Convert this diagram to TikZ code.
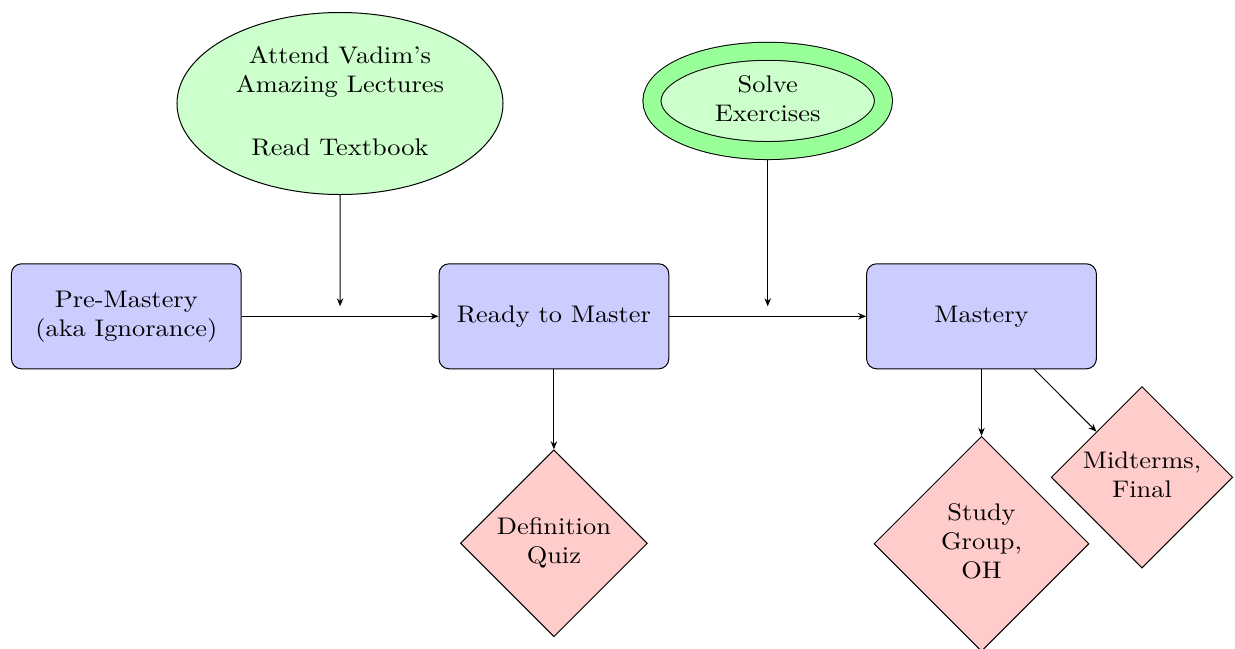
\documentclass[tikz,border=0pt]{standalone}
\usepackage{graphicx}
\usetikzlibrary{shapes.geometric,arrows.meta,calc}
\newcommand\ntxt[1]{\scalebox{1.056}[0.96]{\begin{tabular}{@{}c@{}}#1\end{tabular}}}
\tikzset{
  stagebox/.style={draw=black, fill=blue!20, rounded corners=4pt, inner sep=0pt,
    minimum width=91.9pt, minimum height=42pt, line width=0.4pt},
  actell/.style={draw=black, fill=green!20, ellipse, inner sep=0pt, line width=0.4pt},
  assess/.style={draw=black, fill=red!20, diamond, aspect=1, inner sep=0pt, line width=0.4pt},
  conn/.style={line width=0.4pt, -{Stealth[length=3.2pt,width=2.6pt]}}
}
\begin{document}
\begin{tikzpicture}[x=0.4pt,y=-0.4pt]
\useasboundingbox (0,0) rectangle (1235,648);
% stage boxes
\node[stagebox] (pre) at (126.3,316.3) {\ntxt{Pre-Mastery\\(aka Ignorance)}};
\node[stagebox] (ready) at (553.9,316.3) {\ntxt{Ready to Master}};
\node[stagebox] (mastery) at (981.5,316.3) {\ntxt{Mastery}};
% activities
\node[actell, minimum width=130.4pt, minimum height=72.8pt] (lect) at (340,103.5)
  {\ntxt{Attend Vadim's\\Amazing Lectures\\[14.3pt]Read Textbook}};
\node[actell, double=green!40, double distance=6.8pt, outer sep=3.8pt,
  minimum width=92.6pt, minimum height=39.7pt] (solve) at (767.7,100.9)
  {\ntxt{Solve\\Exercises}};
% assessments
\node[assess, minimum width=74.8pt, minimum height=74.8pt] (quiz) at (553.9,543.3)
  {\ntxt{Definition\\Quiz}};
\node[assess, minimum width=86pt, minimum height=86pt] (study) at (981.5,543.8)
  {\ntxt{Study\\Group,\\OH}};
\node[assess, minimum width=72.6pt, minimum height=72.6pt] (mid) at (1142,477.3)
  {\ntxt{Midterms,\\Final}};
% join points
\coordinate (m1) at ($(pre.east)!0.5!(ready.west)$);
\coordinate (m2) at ($(ready.east)!0.5!(mastery.west)$);
% connectors
\draw[conn] (pre) -- (ready);
\draw[conn] (ready) -- (mastery);
\draw[conn, shorten >=4pt] (lect) -- (m1);
\draw[conn, shorten >=4pt] (solve) -- (m2);
\draw[conn] (ready) -- (quiz);
\draw[conn] (mastery) -- (study);
\draw[conn] (mastery) -- (mid);
\end{tikzpicture}
\end{document}
